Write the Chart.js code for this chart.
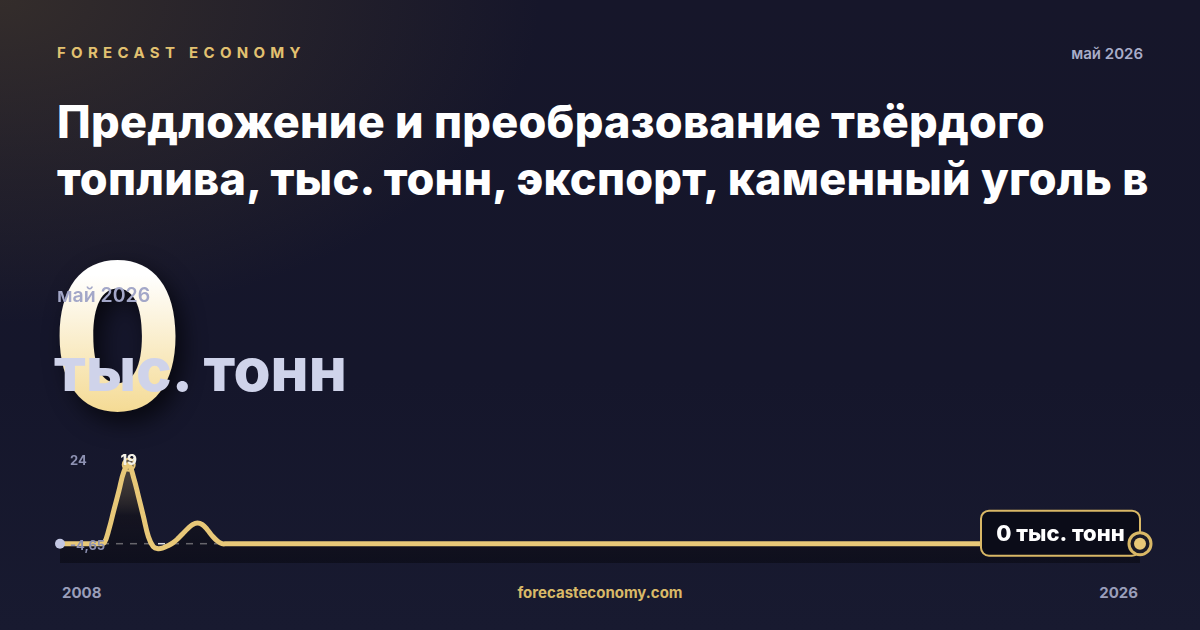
<!DOCTYPE html>
<html lang="ru">
<head>
<meta charset="utf-8">
<script src="https://cdn.jsdelivr.net/npm/chart.js@4"></script>
<style>
  html, body { margin: 0; padding: 0; }
  body {
    width: 1200px; height: 630px; overflow: hidden; position: relative;
    font-family: Inter, "Noto Sans", sans-serif;
    background:
      radial-gradient(ellipse 720px 430px at 0% 0%, rgba(72, 60, 44, 0.6), rgba(72, 60, 44, 0) 75%),
      linear-gradient(180deg, #16162a 0%, #15162b 60%, #181a30 100%);
  }
  .brand {
    position: absolute; left: 57px; top: 45px;
    font-size: 15px; line-height: 1; font-weight: 700; letter-spacing: 5.3px;
    color: #e2c170;
  }
  .date-top {
    position: absolute; right: 57px; top: 46px;
    font-size: 15px; line-height: 1; font-weight: 600; color: #a9adc9;
  }
  .title {
    position: absolute; left: 57px; top: 93px; width: 1140px;
    font-size: 45px; line-height: 57px; font-weight: 800; color: #ffffff;
    letter-spacing: 0.25px;
  }
  .big {
    position: absolute; left: 52px; top: 234px;
    font-size: 204px; line-height: 1; font-weight: 800;
    transform: scaleX(0.93); transform-origin: left top;
    background: linear-gradient(180deg, #ffffff 20%, #f5dc98 85%, #eecd78 100%);
    -webkit-background-clip: text; background-clip: text; color: transparent;
    filter: drop-shadow(8px 10px 12px rgba(0, 0, 0, 0.65));
    z-index: 1;
  }
  .date-mid {
    position: absolute; left: 57px; top: 286px;
    font-size: 19.5px; line-height: 1; font-weight: 600; color: #a3a7c8;
    z-index: 2;
  }
  .unit {
    position: absolute; left: 54px; top: 339px;
    font-size: 60px; line-height: 1; font-weight: 800; color: #cfd3ea;
    z-index: 2;
  }
  .chart-box {
    position: absolute; left: 40px; top: 430px; width: 1120px; height: 150px;
  }
  .foot {
    position: absolute; top: 585px; font-size: 15px; line-height: 1; font-weight: 700;
  }
  .foot.l { left: 62px; color: #9a9eba; }
  .foot.r { right: 62px; color: #9a9eba; }
  .foot.c { left: 0; width: 1200px; text-align: center; color: #d9b968; }
</style>
</head>
<body>
<div class="brand">FORECAST ECONOMY</div>
<div class="date-top">май 2026</div>
<div class="title">Предложение и преобразование твёрдого<br>топлива, тыс. тонн, экспорт, каменный уголь в</div>
<div class="big">0</div>
<div class="date-mid">май 2026</div>
<div class="unit">тыс. тонн</div>
<div class="chart-box"><canvas id="lineChart"></canvas></div>
<div class="foot l">2008</div>
<div class="foot c">forecasteconomy.com</div>
<div class="foot r">2026</div>

<script>
// Данные: ежемесячно, январь 2008 — май 2026
const years = [2008, 2026];
const lastMonth = 5;
const unitLabel = 'тыс. тонн';
const yRange = [-4.65, 24];

const values = [
    0, 0, 0, 0, 0, 0, 0, 0, 0, 0.2,
    3.6, 8.2, 12.7, 17.3, 19, 15.9, 11.3, 6.5, 1.7, -0.7,
    -1.2, -1.0, -0.5, 0.2, 1.2, 2.4, 3.6, 4.6, 5.0, 4.6,
    3.4, 1.9, 0.7, 0,
    0, 0, 0, 0, 0, 0, 0, 0, 0, 0, 0, 0, 0, 0, 0, 0, 0, 0, 0, 0,
    0, 0, 0, 0, 0, 0, 0, 0, 0, 0, 0, 0, 0, 0, 0, 0, 0, 0, 0, 0,
    0, 0, 0, 0, 0, 0, 0, 0, 0, 0, 0, 0, 0, 0, 0, 0, 0, 0, 0, 0,
    0, 0, 0, 0, 0, 0, 0, 0, 0, 0, 0, 0, 0, 0, 0, 0, 0, 0, 0, 0,
    0, 0, 0, 0, 0, 0, 0, 0, 0, 0, 0, 0, 0, 0, 0, 0, 0, 0, 0, 0,
    0, 0, 0, 0, 0, 0, 0, 0, 0, 0, 0, 0, 0, 0, 0, 0, 0, 0, 0, 0,
    0, 0, 0, 0, 0, 0, 0, 0, 0, 0, 0, 0, 0, 0, 0, 0, 0, 0, 0, 0,
    0, 0, 0, 0, 0, 0, 0, 0, 0, 0, 0, 0, 0, 0, 0, 0, 0, 0, 0, 0,
    0, 0, 0, 0, 0, 0, 0, 0, 0, 0, 0, 0, 0, 0, 0, 0, 0, 0, 0, 0,
    0, 0, 0, 0, 0, 0, 0
];

// Подписи месяцев
const labels = [];
for (let y = years[0]; y <= years[1]; y++) {
    for (let m = 1; m <= 12; m++) {
        if (y === years[1] && m > lastMonth) break;
        labels.push(y + '-' + String(m).padStart(2, '0'));
    }
}

const gold = '#e8c878';
const fmt = v => String(v).replace('.', ',');

// Пунктирная линия нуля под графиком
const zeroLine = {
    id: 'zeroLine',
    beforeDatasetsDraw(chart) {
        const { ctx, chartArea, scales } = chart;
        const y = scales.y.getPixelForValue(0);
        ctx.save();
        ctx.strokeStyle = 'rgba(255,255,255,0.85)';
        ctx.lineWidth = 1.5;
        ctx.setLineDash([7, 7]);
        ctx.beginPath();
        ctx.moveTo(chartArea.left, y);
        ctx.lineTo(chartArea.right, y);
        ctx.stroke();
        ctx.restore();
    }
};

// Подписи, маркеры и плашка с последним значением
const overlay = {
    id: 'overlay',
    afterDatasetsDraw(chart) {
        const { ctx, chartArea, scales } = chart;
        const pts = chart.getDatasetMeta(0).data;
        ctx.save();

        // мин / макс шкалы
        ctx.font = '700 13px Inter, sans-serif';
        ctx.fillStyle = '#8d91b2';
        ctx.textBaseline = 'middle';
        ctx.textAlign = 'left';
        ctx.fillText(fmt(scales.y.max), chartArea.left + 10, chartArea.top + 17);
        ctx.fillText(fmt(scales.y.min), chartArea.left + 10, chartArea.bottom - 17);

        // первая точка
        ctx.fillStyle = '#c3c7e2';
        ctx.beginPath();
        ctx.arc(pts[0].x, pts[0].y, 5, 0, Math.PI * 2);
        ctx.fill();

        // максимум
        let iMax = 0;
        values.forEach((v, i) => { if (v > values[iMax]) iMax = i; });
        const p = pts[iMax];
        ctx.fillStyle = 'rgba(232,200,120,0.35)';
        ctx.strokeStyle = gold;
        ctx.lineWidth = 2;
        ctx.beginPath();
        ctx.arc(p.x, p.y, 6, 0, Math.PI * 2);
        ctx.fill();
        ctx.stroke();
        ctx.font = '800 15px Inter, sans-serif';
        ctx.fillStyle = '#f4f1e6';
        ctx.textAlign = 'center';
        ctx.fillText(fmt(values[iMax]), p.x, p.y - 4);

        // последняя точка
        const last = pts[pts.length - 1];
        const txt = fmt(values[values.length - 1]) + ' ' + unitLabel;
        const bw = 159, bh = 45;
        const bx = last.x - bw, by = last.y - 33;
        ctx.fillStyle = '#0b0c18';
        ctx.strokeStyle = '#d9b866';
        ctx.lineWidth = 2;
        ctx.beginPath();
        ctx.roundRect(bx, by, bw, bh, 8);
        ctx.fill();
        ctx.stroke();
        ctx.font = '800 22px Inter, sans-serif';
        ctx.fillStyle = '#ffffff';
        ctx.textAlign = 'center';
        ctx.fillText(txt, bx + bw / 2, by + bh / 2 + 1);

        ctx.fillStyle = '#1a1a26';
        ctx.strokeStyle = '#d9b866';
        ctx.lineWidth = 3;
        ctx.beginPath();
        ctx.arc(last.x, last.y, 11, 0, Math.PI * 2);
        ctx.fill();
        ctx.stroke();
        ctx.fillStyle = gold;
        ctx.beginPath();
        ctx.arc(last.x, last.y, 6, 0, Math.PI * 2);
        ctx.fill();

        ctx.restore();
    }
};

function drawChart() {
    const ctx = document.getElementById('lineChart').getContext('2d');
    new Chart(ctx, {
        type: 'line',
        data: {
            labels: labels,
            datasets: [{
                data: values,
                borderColor: gold,
                borderWidth: 5,
                tension: 0.4,
                pointRadius: 0,
                fill: 'start',
                backgroundColor: (c) => {
                    const area = c.chart.chartArea;
                    if (!area) return 'rgba(0,0,0,0)';
                    const g = c.chart.ctx.createLinearGradient(0, area.top, 0, area.bottom);
                    g.addColorStop(0, 'rgba(232,200,120,0.22)');
                    g.addColorStop(0.6, 'rgba(20,18,24,0.6)');
                    g.addColorStop(1, 'rgba(8,8,16,0.55)');
                    return g;
                }
            }]
        },
        options: {
            responsive: true,
            maintainAspectRatio: false,
            animation: false,
            layout: { padding: { left: 20, right: 20, top: 14, bottom: 17 } },
            scales: {
                x: { display: false, offset: false },
                y: { display: false, min: yRange[0], max: yRange[1] }
            },
            plugins: {
                legend: { display: false },
                tooltip: { enabled: false }
            }
        },
        plugins: [zeroLine, overlay]
    });
}

window.addEventListener('DOMContentLoaded', drawChart);
</script>
</body>
</html>
